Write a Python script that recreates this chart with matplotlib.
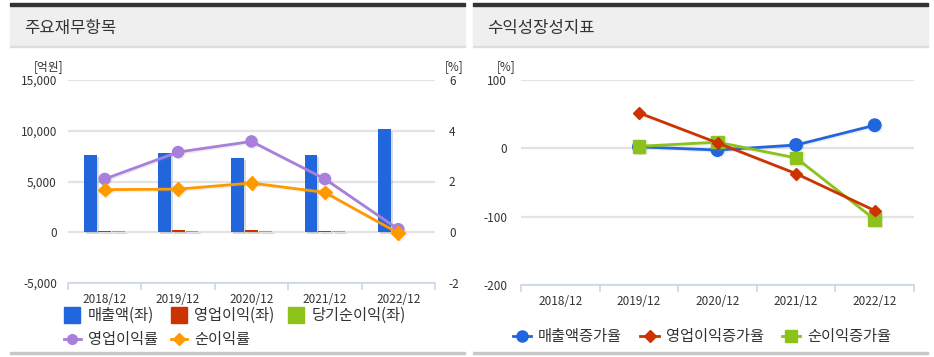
import matplotlib
matplotlib.use("Agg")
import matplotlib.pyplot as plt
import matplotlib.patheffects as pe
from matplotlib.lines import Line2D
from matplotlib.patches import Rectangle

plt.rcParams['font.family'] = ['Noto Sans CJK KR', 'DejaVu Sans']
plt.rcParams['axes.unicode_minus'] = False

years = ['2018/12', '2019/12', '2020/12', '2021/12', '2022/12']

# 주요재무항목 (억원, %)
sales = [7620, 7790, 7330, 7620, 10130]
op_income = [160, 246, 262, 160, 12]
net_income = [128, 132, 142, 120, -3]
op_margin = [2.1, 3.16, 3.58, 2.1, 0.12]
net_margin = [1.68, 1.7, 1.94, 1.57, -0.03]

# 수익성장성지표 (%)
growth_years = [1, 2, 3, 4]
sales_growth = [2.2, -2.5, 4.9, 33.8]
op_growth = [52, 8, -37, -91]
net_growth = [3, 9, -14, -104]

BLUE = '#2166dd'
RED = '#cc3300'
GREEN = '#8cc21a'
PURPLE = '#a87fdb'
ORANGE = '#ff9900'
TXT = '#333333'
GRID = '#e3e3e3'
AXLINE = '#ccd6eb'

W, H = 934, 357
fig = plt.figure(figsize=(W / 100, H / 100), dpi=100)


def fx(px):
    return px / W


def fy(py):
    return 1 - py / H


def panel(x0, x1, title):
    # header band
    fig.patches.append(Rectangle((fx(x0), fy(46)), fx(x1 - x0), (40) / H,
                                 transform=fig.transFigure, color='#efefef', zorder=0))
    fig.patches.append(Rectangle((fx(x0), fy(6)), fx(x1 - x0), 3 / H,
                                 transform=fig.transFigure, color='#333333', zorder=1))
    fig.patches.append(Rectangle((fx(x0), fy(47)), fx(x1 - x0), 1 / H,
                                 transform=fig.transFigure, color='#dddddd', zorder=1))
    fig.patches.append(Rectangle((fx(x0), fy(354)), fx(x1 - x0), 2 / H,
                                 transform=fig.transFigure, color='#c8c8c8', zorder=1))
    fig.text(fx(x0 + 14), fy(28), title, fontsize=12, color=TXT, va='center', ha='left')


def style_axis(ax):
    for s in ['top', 'right', 'left']:
        ax.spines[s].set_visible(False)
    ax.spines['bottom'].set_color(AXLINE)
    ax.spines['bottom'].set_linewidth(1.2)
    ax.set_xlim(-0.5, 4.5)
    ax.set_xticks(range(5))
    ax.set_xticklabels(years, fontsize=8.5, color=TXT)
    ax.tick_params(axis='x', which='major', length=0, pad=7)
    ax.set_xticks([i - 0.5 for i in range(6)], minor=True)
    ax.tick_params(axis='x', which='minor', length=5, color=AXLINE, width=1.2)
    ax.tick_params(axis='y', length=0, labelsize=8.5, labelcolor=TXT)
    ax.grid(axis='y', color=GRID, linewidth=1.6)
    ax.set_axisbelow(True)


panel(10, 465, '주요재무항목')
panel(473, 928, '수익성장성지표')

shadow_p = [pe.SimplePatchShadow(offset=(1.5, -1.5), shadow_rgbFace='#888888', alpha=0.3), pe.Normal()]
shadow_l = [pe.SimpleLineShadow(offset=(1, -1), shadow_color='#888888', alpha=0.15), pe.Normal()]

# ---------- left chart ----------
ax1 = fig.add_axes([fx(68), fy(283), fx(435 - 68), (283 - 80) / H])
style_axis(ax1)
x = range(5)
bw = 0.175
ax1.bar([i - 0.19 for i in x], sales, bw, color=BLUE, path_effects=shadow_p, zorder=2)
ax1.bar(list(x), op_income, bw, color=RED, path_effects=shadow_p, zorder=2)
ax1.bar([i + 0.19 for i in x], net_income, bw, color=GREEN, path_effects=shadow_p, zorder=2)
ax1.set_ylim(-5000, 15000)
ax1.set_yticks([-5000, 0, 5000, 10000, 15000])
ax1.set_yticklabels(['-5,000', '0', '5,000', '10,000', '15,000'])
ax1.tick_params(axis='y', pad=8)

ax2 = ax1.twinx()
for s in ax2.spines.values():
    s.set_visible(False)
ax2.set_ylim(-2, 6)
ax2.set_yticks([-2, 0, 2, 4, 6])
ax2.tick_params(axis='y', length=0, labelsize=8.5, labelcolor=TXT, pad=10)
ax2.plot(x, op_margin, color=PURPLE, lw=2, marker='o', ms=8, path_effects=shadow_l, zorder=3)
ax2.plot(x, net_margin, color=ORANGE, lw=2, marker='D', ms=7, path_effects=shadow_l, zorder=4)

fig.text(fx(49), fy(67), '[억원]', fontsize=8.5, color=TXT, ha='center', va='center')
fig.text(fx(454), fy(67), '[%]', fontsize=8.5, color=TXT, ha='center', va='center')

h_sales = Line2D([], [], color=BLUE, marker='s', ms=11, ls='none')
h_op = Line2D([], [], color=RED, marker='s', ms=11, ls='none')
h_net = Line2D([], [], color=GREEN, marker='s', ms=11, ls='none')
h_opm = Line2D([], [], color=PURPLE, marker='o', ms=7, lw=2)
h_netm = Line2D([], [], color=ORANGE, marker='D', ms=6, lw=2)
fig.legend([h_sales, h_opm, h_op, h_netm, h_net],
           ['매출액(좌)', '영업이익률', '영업이익(좌)', '순이익률', '당기순이익(좌)'],
           ncol=3, loc='upper left', bbox_to_anchor=(fx(64), fy(307)), frameon=False,
           fontsize=11, labelcolor=TXT, handlelength=1.1, handletextpad=0.45,
           columnspacing=0.85, labelspacing=0.45, borderaxespad=0, borderpad=0)

# ---------- right chart ----------
ax3 = fig.add_axes([fx(521), fy(285), fx(914 - 521), (285 - 80) / H])
style_axis(ax3)
ax3.set_ylim(-200, 100)
ax3.set_yticks([-200, -100, 0, 100])
ax3.tick_params(axis='y', pad=10)
ax3.plot(growth_years, sales_growth, color=BLUE, lw=2, marker='o', ms=9, path_effects=shadow_l, zorder=3)
ax3.plot(growth_years, net_growth, color=GREEN, lw=2, marker='s', ms=9, path_effects=shadow_l, zorder=4)
ax3.plot(growth_years, op_growth, color=RED, lw=2, marker='D', ms=6, path_effects=shadow_l, zorder=5)
fig.text(fx(506), fy(67), '[%]', fontsize=8.5, color=TXT, ha='center', va='center')

g_sales = Line2D([], [], color=BLUE, marker='o', ms=8, lw=2)
g_op = Line2D([], [], color=RED, marker='D', ms=6, lw=2)
g_net = Line2D([], [], color=GREEN, marker='s', ms=8, lw=2)
fig.legend([g_sales, g_op, g_net], ['매출액증가율', '영업이익증가율', '순이익증가율'],
           ncol=3, loc='center', bbox_to_anchor=(fx(702), fy(337)), frameon=False,
           fontsize=11, labelcolor=TXT, handlelength=1.2, handletextpad=0.45,
           columnspacing=1.2, borderaxespad=0, borderpad=0)

fig.savefig('out.png', dpi=100)
